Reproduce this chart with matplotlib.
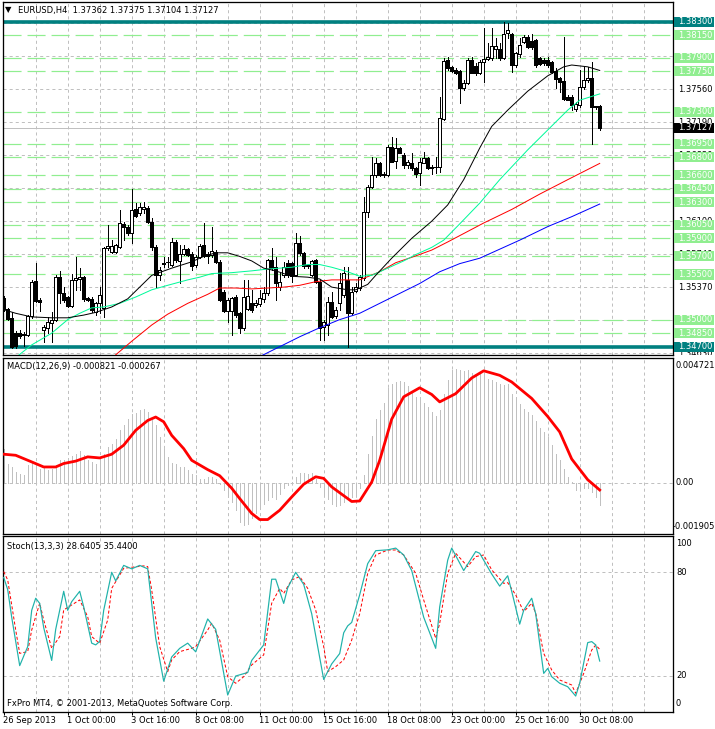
import matplotlib
matplotlib.use("Agg")
import matplotlib.pyplot as plt
from matplotlib.patches import Rectangle
from matplotlib.transforms import blended_transform_factory

plt.rcParams['font.family'] = ['DejaVu Sans']
plt.rcParams['lines.scale_dashes'] = False

# ---- EURUSD H4 candles (bar 0 = 26 Sep 2013 08:00) ----
opens = [1.3524, 1.3512, 1.3502, 1.3485, 1.3485, 1.3483, 1.3483, 1.3504, 1.3543, 1.3522,
         1.3488, 1.3491, 1.3496, 1.3500, 1.3547, 1.3530, 1.3525, 1.3515, 1.3544, 1.3545,
         1.3547, 1.3524, 1.3523, 1.3508, 1.3518, 1.3513, 1.3579, 1.3575, 1.3575, 1.3580,
         1.3606, 1.3603, 1.3596, 1.3623, 1.3618, 1.3623, 1.3624, 1.3608, 1.3580, 1.3549,
         1.3562, 1.3564, 1.3560, 1.3586, 1.3565, 1.3573, 1.3578, 1.3573, 1.3560, 1.3569,
         1.3583, 1.3573, 1.3572, 1.3575, 1.3564, 1.3531, 1.3510, 1.3510, 1.3525, 1.3507,
         1.3491, 1.3512, 1.3518, 1.3516, 1.3517, 1.3523, 1.3530, 1.3566, 1.3558, 1.3536,
         1.3549, 1.3563, 1.3563, 1.3549, 1.3585, 1.3574, 1.3559, 1.3549, 1.3566, 1.3542,
         1.3492, 1.3494, 1.3520, 1.3504, 1.3518, 1.3527, 1.3544, 1.3507, 1.3532, 1.3535,
         1.3546, 1.3619, 1.3647, 1.3660, 1.3674, 1.3660, 1.3660, 1.3691, 1.3676, 1.3690,
         1.3682, 1.3671, 1.3674, 1.3668, 1.3662, 1.3674, 1.3679, 1.3669, 1.3669, 1.3669,
         1.3722, 1.3788, 1.3780, 1.3777, 1.3775, 1.3757, 1.3762, 1.3788, 1.3781, 1.3773,
         1.3785, 1.3789, 1.3790, 1.3800, 1.3800, 1.3790, 1.3817, 1.3816, 1.3782, 1.3794,
         1.3807, 1.3813, 1.3809, 1.3810, 1.3790, 1.3788, 1.3788, 1.3785, 1.3775, 1.3768,
         1.3764, 1.3747, 1.3747, 1.3733, 1.3738, 1.3758, 1.3765, 1.3768, 1.3736, 1.37362]
highs = [1.3526, 1.3513, 1.3508, 1.3487, 1.3489, 1.3486, 1.3505, 1.3544, 1.3563, 1.3524,
         1.3494, 1.3503, 1.3508, 1.3549, 1.3554, 1.3536, 1.3526, 1.3551, 1.3569, 1.3557,
         1.3548, 1.3525, 1.3525, 1.3520, 1.3536, 1.3580, 1.3605, 1.3588, 1.3584, 1.3621,
         1.3608, 1.3605, 1.3645, 1.3629, 1.3629, 1.3630, 1.3626, 1.3613, 1.3583, 1.3558,
         1.3569, 1.3569, 1.3590, 1.3588, 1.3583, 1.3583, 1.3579, 1.3575, 1.3572, 1.3584,
         1.3607, 1.3575, 1.3603, 1.3577, 1.3566, 1.3533, 1.3524, 1.3525, 1.3527, 1.3508,
         1.3544, 1.3544, 1.3533, 1.3522, 1.3533, 1.3536, 1.3567, 1.3579, 1.3569, 1.3552,
         1.3564, 1.3566, 1.3564, 1.3596, 1.3593, 1.3575, 1.3562, 1.3566, 1.3567, 1.3544,
         1.3500, 1.3525, 1.3531, 1.3514, 1.3552, 1.3558, 1.3558, 1.3536, 1.3541, 1.3549,
         1.3636, 1.3649, 1.3680, 1.3679, 1.3675, 1.3663, 1.3693, 1.3702, 1.3701, 1.3691,
         1.3685, 1.3677, 1.3684, 1.3669, 1.3679, 1.3686, 1.3680, 1.3671, 1.3680, 1.3747,
         1.3790, 1.3791, 1.3781, 1.3779, 1.3777, 1.3765, 1.3790, 1.3791, 1.3784, 1.3788,
         1.3823, 1.3806, 1.3823, 1.3812, 1.3806, 1.3830, 1.3829, 1.3817, 1.3796, 1.3812,
         1.3815, 1.3815, 1.3816, 1.3811, 1.3791, 1.3790, 1.3791, 1.3786, 1.3779, 1.3769,
         1.3813, 1.3749, 1.3749, 1.3741, 1.3777, 1.3780, 1.3780, 1.3785, 1.3737, 1.37375]
lows = [1.3510, 1.3500, 1.3469, 1.3469, 1.3480, 1.3471, 1.3482, 1.3502, 1.3520, 1.3510,
        1.3475, 1.3485, 1.3475, 1.3499, 1.3518, 1.3520, 1.3514, 1.3514, 1.3533, 1.3533,
        1.3521, 1.3521, 1.3508, 1.3505, 1.3507, 1.3503, 1.3577, 1.3574, 1.3574, 1.3579,
        1.3588, 1.3594, 1.3585, 1.3614, 1.3616, 1.3618, 1.3607, 1.3577, 1.3536, 1.3544,
        1.3558, 1.3558, 1.3559, 1.3564, 1.3540, 1.3572, 1.3571, 1.3555, 1.3558, 1.3568,
        1.3569, 1.3563, 1.3569, 1.3563, 1.3521, 1.3508, 1.3497, 1.3483, 1.3503, 1.3485,
        1.3488, 1.3511, 1.3508, 1.3514, 1.3515, 1.3520, 1.3527, 1.3555, 1.3522, 1.3533,
        1.3547, 1.3547, 1.3542, 1.3548, 1.3572, 1.3557, 1.3557, 1.3548, 1.3540, 1.3477,
        1.3477, 1.3483, 1.3502, 1.3502, 1.3511, 1.3525, 1.3470, 1.3505, 1.3531, 1.3533,
        1.3544, 1.3614, 1.3646, 1.3658, 1.3659, 1.3658, 1.3659, 1.3675, 1.3668, 1.3684,
        1.3668, 1.3668, 1.3666, 1.3658, 1.3649, 1.3673, 1.3667, 1.3661, 1.3662, 1.3663,
        1.3721, 1.3777, 1.3774, 1.3772, 1.3740, 1.3754, 1.3761, 1.3773, 1.3771, 1.3772,
        1.3763, 1.3788, 1.3788, 1.3790, 1.3788, 1.3789, 1.3812, 1.3774, 1.3780, 1.3791,
        1.3806, 1.3801, 1.3800, 1.3780, 1.3782, 1.3782, 1.3780, 1.3773, 1.3757, 1.3752,
        1.3743, 1.3743, 1.3732, 1.3731, 1.3735, 1.3755, 1.3763, 1.3694, 1.3733, 1.37104]
closes = [1.3512, 1.3501, 1.3470, 1.3471, 1.3482, 1.3484, 1.3504, 1.3542, 1.3521, 1.3520,
          1.3492, 1.3497, 1.3500, 1.3547, 1.3530, 1.3522, 1.3515, 1.3544, 1.3546, 1.3547,
          1.3523, 1.3522, 1.3511, 1.3518, 1.3527, 1.3579, 1.3582, 1.3582, 1.3583, 1.3607,
          1.3603, 1.3596, 1.3621, 1.3615, 1.3625, 1.3625, 1.3608, 1.3580, 1.3549, 1.3555,
          1.3563, 1.3564, 1.3586, 1.3566, 1.3573, 1.3578, 1.3572, 1.3559, 1.3569, 1.3582,
          1.3571, 1.3571, 1.3576, 1.3564, 1.3522, 1.3510, 1.3522, 1.3524, 1.3505, 1.3491,
          1.3525, 1.3526, 1.3511, 1.3518, 1.3524, 1.3530, 1.3566, 1.3557, 1.3540, 1.3542,
          1.3558, 1.3549, 1.3548, 1.3585, 1.3574, 1.3559, 1.3560, 1.3565, 1.3542, 1.3491,
          1.3497, 1.3520, 1.3503, 1.3511, 1.3540, 1.3552, 1.3507, 1.3531, 1.3536, 1.3547,
          1.3619, 1.3647, 1.3660, 1.3674, 1.3660, 1.3661, 1.3691, 1.3675, 1.3690, 1.3684,
          1.3671, 1.3675, 1.3668, 1.3661, 1.3675, 1.3679, 1.3668, 1.3668, 1.3669, 1.3723,
          1.3786, 1.3779, 1.3775, 1.3773, 1.3756, 1.3762, 1.3788, 1.3773, 1.3773, 1.3785,
          1.3789, 1.3791, 1.3803, 1.3803, 1.3790, 1.3816, 1.3821, 1.3782, 1.3795, 1.3804,
          1.3813, 1.3802, 1.3802, 1.3782, 1.3783, 1.3784, 1.3782, 1.3774, 1.3766, 1.3763,
          1.3744, 1.3743, 1.3738, 1.3739, 1.3758, 1.3765, 1.3768, 1.3736, 1.3736, 1.37127]

# moving averages, read at sample bars
ma_black_bars = [0, 3, 7, 12, 16, 20, 23, 27, 31, 34, 37, 42, 47, 50, 53, 56, 59, 62, 65, 68,
                 72, 76, 79, 82, 86, 88, 91, 93, 97, 102, 107, 111, 115, 119, 122, 126, 131,
                 136, 140, 142, 146, 149]
ma_black = [1.3511, 1.3507, 1.3503, 1.3502, 1.3502, 1.3505, 1.3508, 1.3514, 1.3523, 1.3536,
            1.3549, 1.3557, 1.3564, 1.3570, 1.3574, 1.3574, 1.3570, 1.3565, 1.3557, 1.3554,
            1.3548, 1.3547, 1.3545, 1.3536, 1.3533, 1.3533, 1.3539, 1.3549, 1.3568, 1.3590,
            1.3609, 1.3627, 1.3655, 1.3690, 1.3714, 1.3732, 1.3753, 1.3770, 1.3780, 1.3782,
            1.3780, 1.3776]
ma_green_bars = [3, 7, 12, 16, 19, 22, 25, 29, 33, 37, 41, 46, 49, 52, 57, 62, 66, 69, 72, 76,
                 79, 82, 86, 89, 92, 96, 100, 103, 107, 110, 114, 119, 124, 131, 136, 141, 144, 149]
ma_green = [1.3458, 1.3472, 1.3485, 1.3500, 1.3507, 1.3513, 1.3514, 1.3518, 1.3525, 1.3533,
            1.3538, 1.3544, 1.3547, 1.3551, 1.3552, 1.3554, 1.3556, 1.3557, 1.3558, 1.3561,
            1.3561, 1.3558, 1.3553, 1.3548, 1.3549, 1.3557, 1.3565, 1.3572, 1.3580, 1.3588,
            1.3606, 1.3629, 1.3655, 1.3688, 1.3710, 1.3732, 1.3743, 1.3750]
ma_red_bars = [28, 32, 37, 41, 46, 51, 54, 58, 62, 66, 70, 74, 78, 82, 89, 94, 98, 102, 107,
               111, 114, 120, 127, 134, 141, 149]
ma_red = [1.3461, 1.3476, 1.3494, 1.3506, 1.3518, 1.3528, 1.3535, 1.3535, 1.3534, 1.3535,
          1.3536, 1.3538, 1.3542, 1.3544, 1.3544, 1.3553, 1.3563, 1.3569, 1.3577, 1.3586,
          1.3593, 1.3607, 1.3622, 1.3639, 1.3655, 1.3673]
ma_blue_bars = [64, 69, 74, 79, 84, 89, 94, 99, 104, 109, 114, 119, 124, 129, 136, 142, 149]
ma_blue = [1.3459, 1.3470, 1.3481, 1.3491, 1.3500, 1.3507, 1.3518, 1.3529, 1.3540, 1.3553,
           1.3562, 1.3568, 1.3578, 1.3588, 1.3603, 1.3614, 1.3628]

# price levels
green_levels = [1.3815, 1.3790, 1.3775, 1.3730, 1.3695, 1.3680, 1.3660, 1.3645, 1.3630,
                1.3605, 1.3590, 1.3570, 1.3550, 1.3500, 1.3485]
teal_levels = [1.3830, 1.3470]
grid_prices = [1.3463, 1.34995, 1.3536, 1.35725, 1.3609, 1.36455, 1.3682, 1.37185, 1.3755,
               1.37915, 1.3828]
# only the scale labels that are not fully hidden by a level box
grid_labels = ["1.34630", "", "1.35370", "1.35740", "1.36100", "", "1.36820",
               "1.37190", "1.37560", "", ""]
last_price = 1.37127

# MACD(12,26,9)
macd_hist = [0.00126, 0.00073, 0.00060, 0.00041, 0.00033, 0.00029, 0.00067, 0.00079, 0.00067, 0.00054,
             0.00058, 0.00048, 0.00051, 0.00067, 0.00085, 0.00085, 0.00092, 0.00100, 0.00110, 0.00120,
             0.00104, 0.00088, 0.00079, 0.00073, 0.00092, 0.00110, 0.00136, 0.00148, 0.00167, 0.00198,
             0.00217, 0.00242, 0.00261, 0.00265, 0.00274, 0.00277, 0.00267, 0.00236, 0.00217, 0.00171,
             0.00126, 0.00098, 0.00075, 0.00070, 0.00060, 0.00058, 0.00050, 0.00035, 0.00029, 0.00016,
             0.00013, 0.00023, 0.00023, 0.00016, -0.00003, -0.00028, -0.00053, -0.00072, -0.00103, -0.00147,
             -0.00159, -0.00153, -0.00134, -0.00115, -0.00100, -0.00078, -0.00065, -0.00053, -0.00059, -0.00040,
             -0.00021, -0.00009, 0.00002, 0.00023, 0.00038, 0.00038, 0.00033, 0.00038, 0.00016, -0.00015,
             -0.00046, -0.00059, -0.00078, -0.00088, -0.00084, -0.00072, -0.00059, -0.00053, -0.00043, -0.00020,
             0.00029, 0.00108, 0.00176, 0.00242, 0.00274, 0.00299, 0.00359, 0.00374, 0.00380, 0.00383,
             0.00378, 0.00364, 0.00343, 0.00324, 0.00314, 0.00299, 0.00286, 0.00267, 0.00251, 0.00276,
             0.00336, 0.00387, 0.00424, 0.00430, 0.00424, 0.00420, 0.00424, 0.00412, 0.00405, 0.00409,
             0.00412, 0.00390, 0.00387, 0.00380, 0.00374, 0.00368, 0.00374, 0.00336, 0.00318, 0.00296,
             0.00280, 0.00267, 0.00255, 0.00233, 0.00208, 0.00192, 0.00171, 0.00142, 0.00110, 0.00085,
             0.00054, 0.00023, 0.00004, -0.00025, -0.00025, -0.00018, -0.00018, -0.00034, -0.00053, -0.000821]
signal_bars = [0, 3, 7, 10, 13, 15, 18, 21, 24, 27, 30, 33, 36, 38, 40, 42, 45, 47, 51, 54,
               57, 59, 62, 64, 66, 69, 72, 75, 78, 80, 82, 85, 87, 89, 92, 94, 97, 100, 104,
               107, 109, 113, 117, 120, 124, 127, 132, 136, 139, 142, 146, 149]
signal_vals = [0.00108, 0.00104, 0.00079, 0.00060, 0.00060, 0.00073, 0.00082, 0.00098, 0.00094,
               0.00108, 0.00142, 0.00198, 0.00235, 0.00248, 0.00230, 0.00179, 0.00129, 0.00085,
               0.00050, 0.00027, -0.00020, -0.00059, -0.00115, -0.00138, -0.00138, -0.00103,
               -0.00053, -0.00005, 0.00023, 0.00017, -0.00015, -0.00048, -0.00070, -0.00068,
               0.00003, 0.00085, 0.00240, 0.00324, 0.00358, 0.00333, 0.00305, 0.00336, 0.00395,
               0.00422, 0.00405, 0.00380, 0.00318, 0.00250, 0.00192, 0.00090, 0.00012, -0.000267]

# Stochastic(13,3,3)
stoch_main_bars = [0, 1, 2, 4, 6, 7, 8, 9, 10, 12, 13, 15, 16, 17, 19, 20, 22, 23, 24, 25, 27,
                   28, 30, 32, 34, 36, 38, 40, 42, 44, 46, 48, 51, 53, 56, 58, 61, 62, 65, 67,
                   68, 70, 71, 73, 75, 77, 80, 82, 84, 85, 86, 87, 89, 91, 93, 96, 98, 100, 102,
                   105, 108, 109, 111, 112, 115, 118, 119, 122, 124, 126, 127, 129, 130, 132,
                   133, 135, 136, 137, 139, 141, 143, 144, 146, 147, 148, 149]
stoch_main = [77, 70, 54, 26, 37, 58, 65, 62, 48, 29, 47, 69, 58, 63, 69, 60, 39, 38, 40, 58, 80,
              75, 84, 82, 84, 82, 42, 17, 31, 36, 39, 34, 53, 47, 9, 20, 22, 29, 38, 76,
              76, 62, 71, 80, 73, 56, 18, 27, 33, 45, 49, 51, 67, 85, 92.5, 93, 94, 90, 81,
              54, 36, 60, 87, 94, 81, 92, 91, 79, 72, 78, 69, 50, 58, 65,
              56, 21.5, 24.4, 19.6, 15.8, 13.8, 8.4, 15.8, 39.3, 39.9, 38, 28.6405]
stoch_sig_bars = [0, 1, 3, 4, 6, 7, 9, 10, 12, 14, 15, 17, 19, 21, 22, 24, 26, 27, 30, 32, 35,
                  36, 37, 39, 41, 42, 44, 47, 48, 51, 52, 54, 56, 58, 60, 62, 65, 67, 69, 70,
                  72, 74, 76, 78, 80, 81, 83, 85, 87, 88, 89, 91, 93, 96, 98, 100, 103, 105,
                  108, 109, 111, 113, 116, 118, 120, 122, 125, 126, 128, 130, 132, 133, 135,
                  137, 139, 142, 143, 145, 147, 148, 149]
stoch_sig = [80.4, 75.6, 46.6, 33.1, 34.1, 46.6, 62.1, 52.4, 36, 42.8, 58.2, 61.1, 64, 54.3, 42.8,
             38.9, 52.4, 70.7, 82.3, 82.9, 83.7, 83.3, 69.8, 37, 22.5, 29.3, 34.1, 36, 37, 46.6,
             50.5, 40.8, 19.6, 15.8, 19.6, 26.4, 32.2, 62.1, 70.7, 67.8, 75.6, 77.5, 70.7, 58.2,
             37, 22.5, 25.4, 29.3, 40.8, 48.6, 56, 79.4, 90, 92.9, 92.9, 90, 79.4, 64, 41.8, 50.5,
             79.4, 91, 83.3, 89.1, 90, 81.4, 73.6, 74, 66.9, 57.2, 62.1, 56.3, 33.1, 23.5, 17.7,
             14.8, 10, 21.5, 35, 37.9, 35.44]

date_bars = [0, 16, 32, 48, 64, 80, 96, 112, 128, 144]
date_labels = ["26 Sep 2013", "1 Oct 00:00", "3 Oct 16:00", "8 Oct 08:00", "11 Oct 00:00",
               "15 Oct 16:00", "18 Oct 08:00", "23 Oct 00:00", "25 Oct 16:00", "30 Oct 08:00"]

# ---- figure ----
W, H = 715, 729
fig = plt.figure(figsize=(W / 100, H / 100), dpi=100)
fig.patch.set_facecolor('white')

PX = 0.72          # one pixel in points
FS = 6
GRID = '#C0C0C0'
X0, X1 = 2.5, 673.0
XLIM = ((X0 - 3.7) / 4, (X1 - 3.7) / 4)


def px_axes(x0, y0, x1, y1):
    return fig.add_axes([x0 / W, 1 - y1 / H, (x1 - x0) / W, (y1 - y0) / H])


def make_panel(y0, y1, ylim):
    a = px_axes(X0, y0, X1, y1)
    a.set_xlim(*XLIM)
    a.set_ylim(*ylim)
    for s in a.spines.values():
        s.set_linewidth(PX * 1.3)
        s.set_color('black')
    a.set_xticks([])
    a.set_yticks([])
    for b in range(8, 168, 8):
        a.axvline(b, color=GRID, lw=PX, dashes=(2.2, 2.2), zorder=0.5)
    s = px_axes(X1, y0, W, y1)
    s.set_ylim(*ylim)
    s.set_xlim(0, 1)
    s.axis('off')
    return a, s


def scale_label(s, y, text, fc=None, tc='black', va='center', x=0.12, h=None, z=2):
    tr = blended_transform_factory(s.transAxes, s.transData)
    if fc is not None:
        s.add_patch(Rectangle((0.03, y - h / 2), 0.95, h, transform=tr, facecolor=fc,
                              edgecolor='none', zorder=z, clip_on=True))
    s.text(x, y, text, transform=tr, fontsize=FS, color=tc, va=va, ha='left',
           zorder=z + 0.5, clip_on=True)


# main price panel
ax, sx = make_panel(2, 355, (1.34608, 1.38518))
box_h = 0.00112

for p in grid_prices:
    ax.axhline(p, color=GRID, lw=PX, dashes=(2.2, 2.2), zorder=0.5)
for p in green_levels:
    ax.axhline(p, color='#90EE90', lw=PX * 1.2, dashes=(13, 4.3), zorder=1)
ax.axhline(last_price, color=GRID, lw=PX, zorder=1)
for p in teal_levels:
    ax.axhline(p, color='#008080', lw=2.6, zorder=2)

n = len(opens)
ax.vlines(range(n), lows, highs, color='black', lw=PX, zorder=3, antialiased=False)
for i in range(n):
    lo, hi = min(opens[i], closes[i]), max(opens[i], closes[i])
    fc = 'black' if closes[i] < opens[i] else 'white'
    ax.add_patch(Rectangle((i - 0.38, lo), 0.76, max(hi - lo, 0.00003), facecolor=fc,
                           edgecolor='black', lw=PX, zorder=4, antialiased=False))

ax.plot(ma_blue_bars, ma_blue, color='#0000FF', lw=PX, zorder=5)
ax.plot(ma_red_bars, ma_red, color='#FF0000', lw=PX, zorder=5)
ax.plot(ma_green_bars, ma_green, color='#00FA9A', lw=PX, zorder=5)
ax.plot(ma_black_bars, ma_black, color='black', lw=PX, zorder=5)

for p, t in zip(grid_prices, grid_labels):
    if t:
        scale_label(sx, p, t, z=1)
for p in green_levels:
    scale_label(sx, p, f"{p:.5f}", fc='#90EE90', tc='white', h=box_h, z=3)
for p in teal_levels:
    scale_label(sx, p, f"{p:.5f}", fc='#008080', tc='white', h=box_h, z=5)
scale_label(sx, last_price, f"{last_price:.5f}", fc='black', tc='white', h=box_h, z=7)

# MACD panel
ax2, sx2 = make_panel(357.5, 533.5, (-0.001905, 0.004721))
ax2.axhline(0, color=GRID, lw=PX, dashes=(2.2, 2.2), zorder=0.5)
ax2.vlines(range(n), 0, macd_hist, color='#C0C0C0', lw=PX, zorder=2, antialiased=False)
ax2.plot(signal_bars, signal_vals, color='#FF0000', lw=2.0, zorder=3)
scale_label(sx2, 0.00441, "0.004721", x=0.05)
scale_label(sx2, 0.0, "0.00", x=0.07)
scale_label(sx2, -0.00165, "-0.001905", x=0.0)

# Stochastic panel
ax3, sx3 = make_panel(536, 712, (-0.83, 101.0))
for v in (20, 80):
    ax3.axhline(v, color=GRID, lw=PX, dashes=(2.2, 2.2), zorder=0.5)
ax3.plot(stoch_sig_bars, stoch_sig, color='#FF0000', lw=PX, dashes=(2.2, 1.5), zorder=3)
ax3.plot(stoch_main_bars, stoch_main, color='#20B2AA', lw=PX * 1.2, zorder=4)
scale_label(sx3, 96.8, "100", x=0.07)
scale_label(sx3, 80, "80", x=0.07)
scale_label(sx3, 20, "20", x=0.07)
scale_label(sx3, 3.8, "0", x=0.07)
ax3.set_xticks(date_bars)
ax3.set_xticklabels([])
ax3.tick_params(axis='x', length=2.5, width=PX, direction='out')

for b, t in zip(date_bars, date_labels):
    xp = 3.7 + 4 * b - 1
    fig.text(max(xp, 2.5) / W, 1 - 720.5 / H, t, fontsize=FS, ha='left', va='center')

# titles
fig.text(5 / W, 1 - 10 / H, "\u25BC", fontsize=6, ha='left', va='center')
fig.text(17.5 / W, 1 - 10 / H, "EURUSD,H4  1.37362 1.37375 1.37104 1.37127",
         fontsize=FS, ha='left', va='center')
fig.text(7 / W, 1 - 367 / H, "MACD(12,26,9) -0.000821 -0.000267", fontsize=FS,
         ha='left', va='center')
fig.text(7 / W, 1 - 546 / H, "Stoch(13,3,3) 28.6405 35.4400", fontsize=FS,
         ha='left', va='center')
fig.text(7 / W, 1 - 704 / H, "FxPro MT4, \u00A9 2001-2013, MetaQuotes Software Corp.",
         fontsize=FS, ha='left', va='center')

fig.savefig("out.png", dpi=100, facecolor='white')
